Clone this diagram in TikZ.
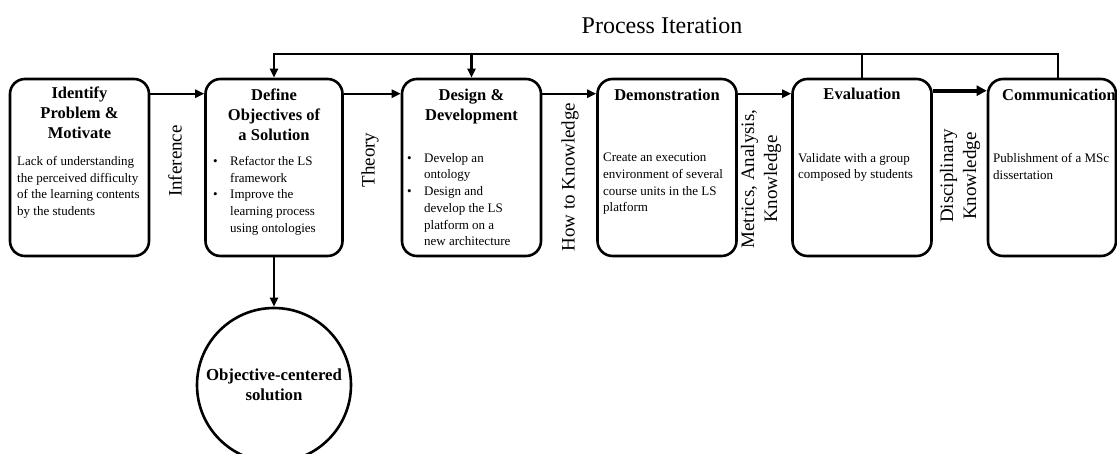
\documentclass[tikz,border=0pt]{standalone}
\usepackage{fontspec}
\setmainfont{Liberation Serif}
\usetikzlibrary{arrows.meta}
\newcommand{\bul}{\makebox[17pt][l]{\textbullet}}
\newcommand{\ind}{\hspace*{17pt}}

\begin{document}
\begin{tikzpicture}[x=1pt, y=-1pt,
		box/.style = {rectangle, rounded corners=15pt, draw=black, line width=2.6pt, minimum width=139pt, minimum height=177pt},
		sol/.style = {circle, draw=black, line width=2.6pt, minimum size=154pt, align=center, font=\fontsize{16.8}{20}\selectfont\bfseries},
		ttl/.style = {anchor=north, align=center, inner sep=0pt, font=\fontsize{16.5}{20}\selectfont\bfseries},
		txt/.style = {anchor=north west, align=left, inner sep=0pt, font=\fontsize{13}{16.7}\selectfont},
		lbl/.style = {rotate=90, align=center, inner sep=0pt, font=\fontsize{19}{23}\selectfont},
		r/.style = {-{Triangle[length=9pt, width=8pt]}, line width=2.3pt},
		!/.style = {-{Triangle[length=10pt, width=10pt]}, line width=4pt}
		]
		\useasboundingbox (0,0) rectangle (1117,454);
		
		%Nodes
		\node[box]						(idp)	at	(79.5, 167.5)	{};
		\node[box, minimum width=137pt]	(def)	at	(274, 167.5)	{};
		\node[box]						(des)	at	(471.5, 167.5)	{};
		\node[box]						(dem)	at	(667, 167.5)	{};
		\node[box]						(eva)	at	(862, 167.5)	{};
		\node[box, minimum width=128pt]	(com)	at	(1052, 167.5)	{};
		\node[sol]						(ocs)	at	(274, 385)		{Objective-centered\\solution};
		\coordinate						(top)	at	(600, 54);
		
		%Titles
		\node[ttl]	(idpt)	at	(79.5, 87)	{Identify\\Problem \&\\Motivate};
		\node[ttl]	(deft)	at	(274, 89)	{Define\\Objectives of\\a Solution};
		\node[ttl]	(dest)	at	(471.5, 89)	{Design \&\\Development};
		\node[ttl]	(demt)	at	(667, 89)	{Demonstration};
		\node[ttl]	(evat)	at	(862, 88)	{Evaluation};
		\node[ttl]	(comt)	at	(1059, 89)	{Communication};
		\node[font=\fontsize{24}{28}\selectfont]	(pit)	at	(662, 26)	{Process Iteration};
		
		%Texts
		\node[txt]	(idpx)	at	(17, 156)	{Lack of understanding\\the perceived difficulty\\of the learning contents\\by the students};
		\node[txt]	(defx)	at	(213, 156)	{\bul Refactor the LS\\\ind framework\\\bul Improve the\\\ind learning process\\\ind using ontologies};
		\node[txt]	(desx)	at	(407, 153)	{\bul Develop an\\\ind ontology\\\bul Design and\\\ind develop the LS\\\ind platform on a\\\ind new architecture};
		\node[txt]	(demx)	at	(603, 153)	{Create an execution\\environment of several\\course units in the LS\\platform};
		\node[txt]	(evax)	at	(798, 153)	{Validate with a group\\composed by students};
		\node[txt]	(comx)	at	(993, 153)	{Publishment of a MSc\\dissertation};
		
		%Labels
		\node[lbl]	(inf)	at	(175, 161)	{Inference};
		\node[lbl]	(thy)	at	(370, 160)	{Theory};
		\node[lbl]	(htk)	at	(570, 177)	{How to Knowledge};
		\node[lbl]	(mak)	at	(761, 179)	{Metrics, Analysis,\\Knowledge};
		\node[lbl]	(dik)	at	(960, 176)	{Disciplinary\\Knowledge};
		
		%Lines
		\draw[r]	([yshift=-16pt]idp.north east)	--	([yshift=-16pt]def.north west);
		\draw[r]	([yshift=-16pt]def.north east)	--	([yshift=-16pt]des.north west);
		\draw[r]	([yshift=-16pt]des.north east)	--	([yshift=-16pt]dem.north west);
		\draw[r]	([yshift=-16pt]dem.north east)	--	([yshift=-16pt]eva.north west);
		\draw[!]	([yshift=-13pt]eva.north east)	--	([yshift=-13pt]com.north west);
		\draw[r]	(def.south)	--	(ocs.north);
		\draw[r]	([xshift=6pt]com.north)	|-	(top)	-|	(def.north);
		\draw[line width=2.3pt]	(eva.north)	--	(eva.north |- top);
		\draw[r]	(des.north |- top)	--	(des.north);
	\end{tikzpicture}
\end{document}
